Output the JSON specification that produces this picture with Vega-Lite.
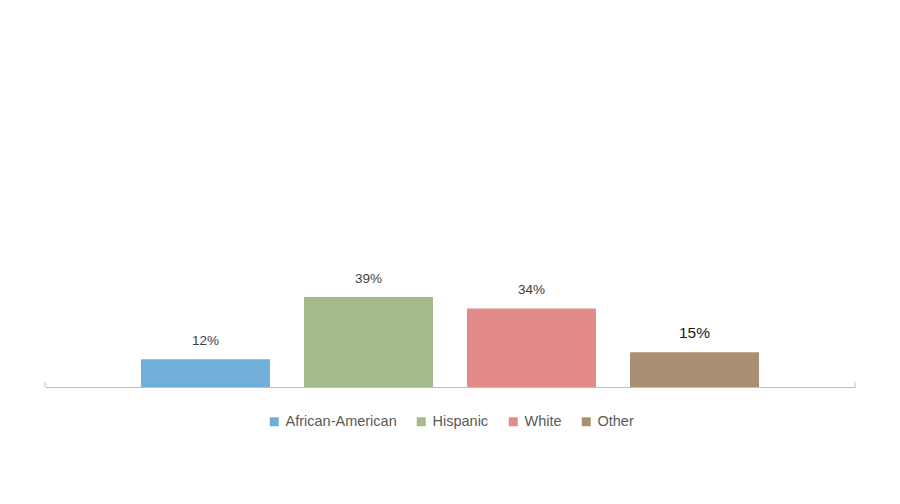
{
  "$schema": "https://vega.github.io/schema/vega-lite/v6.json",
  "autosize": "none",
  "width": 810,
  "height": 369.6,
  "padding": {"left": 45, "top": 17.4, "right": 45, "bottom": 117},
  "background": "white",
  "config": {"view": {"stroke": null}, "font": "Liberation Sans", "legend": {"layout": {"bottom": {"anchor": "middle"}}}},
  "data": {"values": [
    {"group": "African-American", "share": 0.12, "label": "12%"},
    {"group": "Hispanic", "share": 0.39, "label": "39%"},
    {"group": "White", "share": 0.34, "label": "34%"},
    {"group": "Other", "share": 0.15, "label": "15%"}
  ]},
  "resolve": {"scale": {"x": "independent"}, "axis": {"x": "independent"}},
  "layer": [
    {
      "encoding": {
        "x": {
          "field": "group", "type": "nominal", "sort": null,
          "scale": {"paddingInner": 0.2086, "paddingOuter": 0.589},
          "axis": {"title": null, "labels": false, "ticks": false, "domainColor": "#BFBFBF", "domainWidth": 1}
        },
        "y": {
          "field": "share", "type": "quantitative",
          "scale": {"domain": [0, 1.6], "nice": false, "zero": true},
          "axis": null
        }
      },
      "layer": [
        {
          "mark": {"type": "bar"},
          "encoding": {
            "color": {
              "field": "group", "type": "nominal", "sort": null,
              "scale": {"domain": ["African-American", "Hispanic", "White", "Other"], "range": ["#72AEDA", "#A4BA8B", "#E38B8A", "#AB8F72"]},
              "legend": {
                "title": null, "orient": "bottom", "direction": "horizontal",
                "symbolType": "square", "symbolSize": 81, "symbolStrokeWidth": 0,
                "labelFontSize": 14.5, "labelColor": "#595959", "labelFont": "Liberation Sans",
                "labelOffset": 4, "columnPadding": 17, "offset": 27
              }
            }
          }
        },
        {
          "mark": {"type": "text", "dy": -11, "baseline": "bottom"},
          "encoding": {
            "text": {"field": "label"},
            "size": {"condition": {"test": "datum.group === 'Other'", "value": 15.5}, "value": 13.5},
            "color": {"condition": {"test": "datum.group === 'Other'", "value": "#1a1a1a"}, "value": "#404040"}
          }
        }
      ]
    },
    {
      "data": {"values": [{"edge": 0}, {"edge": 1}]},
      "mark": {"type": "rule", "color": "#BFBFBF", "strokeWidth": 1},
      "encoding": {
        "x": {"field": "edge", "type": "quantitative", "scale": {"domain": [0, 1], "nice": false}, "axis": null},
        "y": {"datum": 0, "type": "quantitative", "scale": {"domain": [0, 1.6], "nice": false}},
        "y2": {"datum": 0.022}
      }
    }
  ]
}
